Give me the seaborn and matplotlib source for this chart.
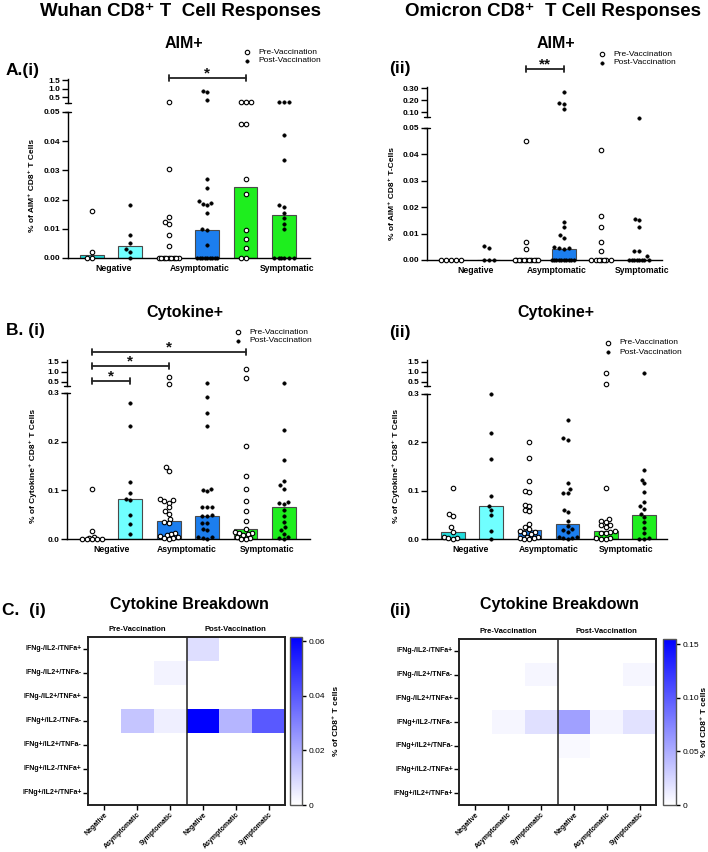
import numpy as np
import pandas as pd
import matplotlib
matplotlib.use("Agg")
import matplotlib.pyplot as plt
import seaborn as sns
from matplotlib.colors import LinearSegmentedColormap
from matplotlib.lines import Line2D
import matplotlib.transforms as mtransforms

sns.set_theme(style="ticks")
plt.rcParams['font.family'] = ['Liberation Sans', 'DejaVu Sans']
plt.rcParams['axes.linewidth'] = 1.0
plt.rcParams['xtick.major.width'] = 1.0
plt.rcParams['ytick.major.width'] = 1.0
for key in ('text.color', 'axes.labelcolor', 'xtick.color', 'ytick.color',
            'axes.edgecolor'):
    plt.rcParams[key] = 'black'

# ---------------- data ----------------
groups = ["Negative", "Asymptomatic", "Symptomatic"]
bar_names = ["Neg Pre", "Neg Post", "Asym Pre", "Asym Post", "Symp Pre", "Symp Post"]
bar_colors = ["#22DCDC", "#70FFFF", "#1C7EEE", "#1C7EEE", "#1EEE1E", "#1EEE1E"]
legend_labels = ["Pre-Vaccination", "Post-Vaccination"]

# A(i) Wuhan AIM+
wuhan_aim_bars = [0.001, 0.004, 0.0, 0.0095, 0.0243, 0.0147]
wuhan_aim_neg_pre = [0.016, 0.002, 0.0, 0.0]
wuhan_aim_neg_post = [0.018, 0.0078, 0.005, 0.003, 0.002, 0.0]
wuhan_aim_asym_pre = [0.2, 0.0305, 0.014, 0.0125, 0.0115, 0.008, 0.004,
                      0.0, 0.0, 0.0, 0.0, 0.0, 0.0, 0.0, 0.0, 0.0]
wuhan_aim_asym_post = [0.85, 0.78, 0.3, 0.027, 0.024, 0.0195, 0.019, 0.0185, 0.018,
                       0.0155, 0.0098, 0.0095, 0.0045,
                       0.0, 0.0, 0.0, 0.0, 0.0, 0.0, 0.0, 0.0, 0.0]
wuhan_aim_symp_pre = [0.2, 0.2, 0.2, 0.046, 0.046, 0.027, 0.022, 0.0097, 0.0065,
                      0.0035, 0.0, 0.0]
wuhan_aim_symp_post = [0.2, 0.2, 0.2, 0.042, 0.0335, 0.018, 0.0175, 0.0155, 0.0138,
                       0.0115, 0.0098, 0.0, 0.0, 0.0, 0.0, 0.0, 0.0]

# A(ii) Omicron AIM+
omicron_aim_bars = [0.0, 0.0, 0.0, 0.0043, 0.0, 0.0]
omicron_aim_neg_pre = [0.0, 0.0, 0.0, 0.0, 0.0]
omicron_aim_neg_post = [0.0053, 0.0045, 0.0, 0.0, 0.0]
omicron_aim_asym_pre = [0.045, 0.0067, 0.004, 0.0, 0.0, 0.0, 0.0, 0.0, 0.0, 0.0,
                        0.0, 0.0, 0.0, 0.0]
omicron_aim_asym_post = [0.27, 0.18, 0.17, 0.13, 0.0145, 0.0125, 0.0095, 0.0085,
                         0.0048, 0.0046, 0.0045, 0.0043,
                         0.0, 0.0, 0.0, 0.0, 0.0, 0.0, 0.0, 0.0, 0.0, 0.0]
omicron_aim_symp_pre = [0.0415, 0.0165, 0.0125, 0.007, 0.0033,
                        0.0, 0.0, 0.0, 0.0, 0.0, 0.0, 0.0]
omicron_aim_symp_post = [0.053, 0.0155, 0.015, 0.0125, 0.0033, 0.0033, 0.0015,
                         0.0, 0.0, 0.0, 0.0, 0.0, 0.0, 0.0, 0.0]

# B(i) Wuhan Cytokine+
wuhan_cyt_bars = [0.002, 0.082, 0.038, 0.048, 0.02, 0.065]
wuhan_cyt_neg_pre = [0.103, 0.016, 0.005, 0.003, 0.0, 0.0, 0.0, 0.0, 0.0]
wuhan_cyt_neg_post = [0.28, 0.232, 0.118, 0.094, 0.083, 0.08, 0.05, 0.03, 0.01]
wuhan_cyt_asym_pre = [0.75, 0.4, 0.148, 0.14, 0.083, 0.08, 0.078, 0.075, 0.065, 0.057,
                      0.052, 0.042, 0.035, 0.033, 0.012, 0.01, 0.008, 0.007, 0.005,
                      0.003, 0.002, 0.001]
wuhan_cyt_asym_post = [0.45, 0.292, 0.258, 0.233, 0.103, 0.1, 0.098, 0.066, 0.066,
                       0.065, 0.05, 0.048, 0.047, 0.033, 0.032, 0.02, 0.018, 0.005,
                       0.004, 0.002, 0.0]
wuhan_cyt_symp_pre = [1.15, 0.7, 0.192, 0.13, 0.103, 0.079, 0.057, 0.038, 0.02, 0.015,
                      0.013, 0.012, 0.01, 0.008, 0.005, 0.002, 0.0, 0.0]
wuhan_cyt_symp_post = [0.45, 0.223, 0.162, 0.12, 0.11, 0.103, 0.077, 0.075, 0.072,
                       0.06, 0.048, 0.035, 0.025, 0.018, 0.01, 0.005, 0.002, 0.0]

# B(ii) Omicron Cytokine+
omicron_cyt_bars = [0.014, 0.068, 0.018, 0.032, 0.016, 0.05]
omicron_cyt_neg_pre = [0.106, 0.052, 0.047, 0.024, 0.015, 0.005, 0.003, 0.002, 0.0]
omicron_cyt_neg_post = [0.3, 0.22, 0.166, 0.09, 0.068, 0.06, 0.05, 0.016, 0.0]
omicron_cyt_asym_pre = [0.2, 0.167, 0.12, 0.1, 0.098, 0.07, 0.068, 0.06, 0.058, 0.032,
                        0.025, 0.02, 0.016, 0.015, 0.013, 0.01, 0.005, 0.004, 0.003,
                        0.002, 0.001, 0.0]
omicron_cyt_asym_post = [0.247, 0.208, 0.205, 0.115, 0.103, 0.096, 0.095, 0.06, 0.055,
                         0.038, 0.027, 0.02, 0.018, 0.015, 0.005, 0.004, 0.003, 0.002,
                         0.0]
omicron_cyt_symp_pre = [0.95, 0.38, 0.105, 0.042, 0.038, 0.035, 0.03, 0.028, 0.025,
                        0.017, 0.015, 0.013, 0.012, 0.003, 0.002, 0.0, 0.0]
omicron_cyt_symp_post = [0.95, 0.142, 0.123, 0.115, 0.098, 0.077, 0.068, 0.063, 0.052,
                         0.045, 0.035, 0.023, 0.013, 0.002, 0.0, 0.0]

# C heatmaps
cytokine_rows = ["IFNg-/IL2-/TNFa+", "IFNg-/IL2+/TNFa-", "IFNg-/IL2+/TNFa+",
                 "IFNg+/IL2-/TNFa-", "IFNg+/IL2+/TNFa-", "IFNg+/IL2-/TNFa+",
                 "IFNg+/IL2+/TNFa+"]
heat_cols = ["Negative", "Asymptomatic", "Symptomatic",
             "Negative", "Asymptomatic", "Symptomatic"]
wuhan_breakdown = [
    [0.0, 0.0, 0.0, 0.008, 0.0, 0.0],
    [0.0, 0.0, 0.003, 0.0, 0.0, 0.0],
    [0.0, 0.0, 0.0, 0.0, 0.0, 0.0],
    [0.0, 0.014, 0.004, 0.062, 0.018, 0.04],
    [0.0, 0.0, 0.0, 0.0, 0.0, 0.0],
    [0.0, 0.0, 0.0, 0.0, 0.0, 0.0],
    [0.0, 0.0, 0.0, 0.0, 0.0, 0.0],
]
omicron_breakdown = [
    [0.0, 0.0, 0.0, 0.0, 0.0, 0.0],
    [0.0, 0.0, 0.006, 0.0, 0.0, 0.006],
    [0.0, 0.0, 0.0, 0.0, 0.0, 0.0],
    [0.0, 0.006, 0.019, 0.058, 0.007, 0.018],
    [0.0, 0.0, 0.0, 0.004, 0.0, 0.0],
    [0.0, 0.0, 0.0, 0.0, 0.0, 0.0],
    [0.0, 0.0, 0.0, 0.0, 0.0, 0.0],
]

# ---------------- layout helpers ----------------
W, H = 708, 852
fig = plt.figure(figsize=(W / 100, H / 100), dpi=100)


def fx(x):
    return x / W


def fy(y):
    return 1 - y / H


def add_ax(x0, y0, x1, y1):
    return fig.add_axes([x0 / W, 1 - y1 / H, (x1 - x0) / W, (y1 - y0) / H])


def ftext(x, y, s, **kw):
    fig.text(fx(x), fy(y), s, **kw)


def swarm_x(axL, axT, center, vals, split, half_w_px=11.5, diam=4.6, step=0.5):
    vals = np.asarray(vals, float)
    order = np.argsort(vals, kind='stable')
    x0px = axL.transData.transform((center, 0))[0]
    ppu = axL.transData.transform((center + 1, 0))[0] - x0px
    cands = np.arange(-half_w_px, half_w_px + 1e-9, step)
    cands = cands[np.argsort(np.abs(cands), kind='stable')]
    placed = []
    xs = np.zeros(len(vals))
    for i in order:
        v = vals[i]
        a = axL if v <= split else axT
        ypx = a.transData.transform((center, v))[1]
        best, bestd = 0.0, -1.0
        for c in cands:
            d = min((np.hypot(c - px, ypx - py) for px, py in placed), default=np.inf)
            if d >= diam:
                best = c
                break
            if d > bestd:
                bestd, best = d, c
        placed.append((best, ypx))
        xs[i] = center + best / ppu
    return xs


def spine_cap(ax, where, half_px=3.0):
    bb = ax.get_position()
    d = half_px / (bb.width * W)
    ax.plot([-d, d], [where, where], color='black', lw=1.0,
            transform=ax.transAxes, clip_on=False)


def bar_panel(lower_box, top_box, lower_ylim, top_ylim, lower_ticks, lower_fmt,
              top_ticks, top_fmt, xlim, bars, point_sets, label_pos):
    axL = add_ax(*lower_box)
    axT = add_ax(*top_box)
    df = pd.DataFrame({"group": bar_names, "value": bars})
    sns.barplot(data=df, x="group", y="value", hue="group", order=bar_names,
                hue_order=bar_names, palette=bar_colors, legend=False, ax=axL,
                width=0.62, saturation=1, edgecolor="#4a4a4a", linewidth=0.8,
                errorbar=None)
    for a, yl in ((axL, lower_ylim), (axT, top_ylim)):
        a.set_xlim(xlim)
        a.set_ylim(yl)
        a.set_xlabel("")
        a.set_ylabel("")
    split = lower_ylim[1]
    for i, vals in enumerate(point_sets):
        xs = swarm_x(axL, axT, i, vals, split)
        vals = np.asarray(vals, float)
        low = vals <= split
        pre = (i % 2 == 0)
        for a, m in ((axL, low), (axT, ~low)):
            if m.sum() == 0:
                continue
            if pre:
                a.scatter(xs[m], vals[m], s=10.5, facecolor='white', edgecolor='black',
                          linewidth=0.8, zorder=4, clip_on=False)
            else:
                a.scatter(xs[m], vals[m], s=6.5, facecolor='black', edgecolor='black',
                          linewidth=0.3, zorder=4, clip_on=False)
    for a, yl in ((axL, lower_ylim), (axT, top_ylim)):
        a.set_xlim(xlim)
        a.set_ylim(yl)
    # lower axis styling
    axL.spines['top'].set_visible(False)
    axL.spines['right'].set_visible(False)
    axL.set_yticks(lower_ticks, [lower_fmt % t for t in lower_ticks],
                   fontsize=6, fontweight='bold')
    axL.set_xticks(label_pos, groups, fontsize=6.2, fontweight='bold')
    axL.tick_params(axis='x', length=0, pad=4)
    axL.tick_params(axis='y', length=4, width=1, pad=1.5, direction='out')
    # top axis styling
    for s in ('top', 'right', 'bottom'):
        axT.spines[s].set_visible(False)
    axT.set_xticks([])
    axT.set_yticks(top_ticks, [top_fmt % t for t in top_ticks],
                   fontsize=6, fontweight='bold')
    axT.tick_params(axis='y', length=4, width=1, pad=1.5, direction='out')
    spine_cap(axT, 0.0)
    spine_cap(axL, 1.0)
    axL.set_facecolor('none')
    axT.set_facecolor('none')
    return axL, axT


def sig_bracket(ax, x0, x1, y_px, text, fs=11):
    tr = mtransforms.blended_transform_factory(ax.transData, fig.transFigure)
    y = fy(y_px)
    cap = 3.0 / H
    kw = dict(color='#222222', lw=1.3, transform=tr, clip_on=False)
    ax.plot([x0, x1], [y, y], **kw)
    ax.plot([x0, x0], [y - cap, y + cap], **kw)
    ax.plot([x1, x1], [y - cap, y + cap], **kw)
    ax.text((x0 + x1) / 2, y + 1.0 / H, text, transform=tr, ha='center',
            va='baseline', fontsize=fs, fontweight='bold', color='#111111')


def legend_at(x, y):
    fig.add_artist(Line2D([fx(x)], [fy(y)], marker='o', markersize=3.2,
                          mfc='white', mec='black', mew=0.8, linestyle='none',
                          transform=fig.transFigure))
    fig.add_artist(Line2D([fx(x)], [fy(y + 9)], marker='o', markersize=2.5,
                          mfc='black', mec='black', mew=0.3, linestyle='none',
                          transform=fig.transFigure))
    ftext(x + 11, y, legend_labels[0], fontsize=6, va='center', ha='left')
    ftext(x + 11, y + 9, legend_labels[1], fontsize=6, va='center', ha='left')


# ---------------- titles ----------------
ftext(181, 12, "Wuhan CD8⁺ T  Cell Responses", fontsize=13.5, fontweight='bold',
      ha='center', va='center')
ftext(553, 11, "Omicron CD8⁺  T Cell Responses", fontsize=13.5, fontweight='bold',
      ha='center', va='center')

# ---------------- A(i) ----------------
axL, axT = bar_panel((68, 112, 310, 258), (68, 79, 310, 103), (0, 0.05), (0.147, 1.56),
                     [0, 0.01, 0.02, 0.03, 0.04, 0.05], "%.2f", [0.5, 1.0, 1.5], "%.1f",
                     (-0.625, 5.68), wuhan_aim_bars,
                     [wuhan_aim_neg_pre, wuhan_aim_neg_post, wuhan_aim_asym_pre,
                      wuhan_aim_asym_post, wuhan_aim_symp_pre, wuhan_aim_symp_post],
                     [0.55, 2.81, 5.08])
sig_bracket(axT, 2, 4, 78, "*")
ftext(184, 44, "AIM+", fontsize=11.5, fontweight='bold', ha='center', va='center')
ftext(6, 71, "A.(i)", fontsize=12.5, fontweight='bold', ha='left', va='center')
ftext(33, 185, "% of AIM⁺ CD8⁺ T Cells", fontsize=6, fontweight='bold', rotation=90,
      ha='center', va='center')
legend_at(247, 52)

# ---------------- A(ii) ----------------
axL, axT = bar_panel((427, 128, 662, 260), (427, 87, 662, 117), (0, 0.05), (0.061, 0.311),
                     [0, 0.01, 0.02, 0.03, 0.04, 0.05], "%.2f", [0.1, 0.2, 0.3], "%.2f",
                     (-0.64, 5.61), omicron_aim_bars,
                     [omicron_aim_neg_pre, omicron_aim_neg_post, omicron_aim_asym_pre,
                      omicron_aim_asym_post, omicron_aim_symp_pre, omicron_aim_symp_post],
                     [0.64, 2.82, 5.08])
sig_bracket(axT, 2, 3, 69, "**")
ftext(556, 43, "AIM+", fontsize=11.5, fontweight='bold', ha='center', va='center')
ftext(389, 68, "(ii)", fontsize=12.5, fontweight='bold', ha='left', va='center')
ftext(392, 194, "% of AIM⁺ CD8⁺ T-Cells", fontsize=6, fontweight='bold', rotation=90,
      ha='center', va='center')
legend_at(602, 54)

# ---------------- B(i) ----------------
axL, axT = bar_panel((67, 393, 310, 539), (67, 360, 310, 386), (0, 0.3), (0.3, 1.6),
                     [0, 0.1, 0.2, 0.3], "%.1f", [0.5, 1.0, 1.5], "%.1f",
                     (-0.65, 5.68), wuhan_cyt_bars,
                     [wuhan_cyt_neg_pre, wuhan_cyt_neg_post, wuhan_cyt_asym_pre,
                      wuhan_cyt_asym_post, wuhan_cyt_symp_pre, wuhan_cyt_symp_post],
                     [0.52, 2.47, 4.56])
sig_bracket(axT, 0, 1, 381, "*")
sig_bracket(axT, 0, 2, 366, "*")
sig_bracket(axT, 0, 4, 352, "*")
ftext(185, 313, "Cytokine+", fontsize=11.5, fontweight='bold', ha='center', va='center')
ftext(6, 331, "B. (i)", fontsize=12.5, fontweight='bold', ha='left', va='center')
ftext(33, 466, "% of Cytokine⁺ CD8⁺ T Cells", fontsize=6, fontweight='bold',
      rotation=90, ha='center', va='center')
legend_at(238, 332)

# ---------------- B(ii) ----------------
axL, axT = bar_panel((427, 394, 667, 539), (427, 360, 667, 386), (0, 0.3), (0.3, 1.6),
                     [0, 0.1, 0.2, 0.3], "%.1f", [0.5, 1.0, 1.5], "%.1f",
                     (-0.68, 5.6), omicron_cyt_bars,
                     [omicron_cyt_neg_pre, omicron_cyt_neg_post, omicron_cyt_asym_pre,
                      omicron_cyt_asym_post, omicron_cyt_symp_pre, omicron_cyt_symp_post],
                     [0.47, 2.51, 4.53])
ftext(556, 313, "Cytokine+", fontsize=11.5, fontweight='bold', ha='center', va='center')
ftext(389, 332, "(ii)", fontsize=12.5, fontweight='bold', ha='left', va='center')
ftext(396, 466, "% of Cytokine⁺ CD8⁺ T Cells", fontsize=6, fontweight='bold',
      rotation=90, ha='center', va='center')
legend_at(608, 343)

# ---------------- C heatmaps ----------------
cmap = LinearSegmentedColormap.from_list("white_blue", ["#FFFFFF", "#0000FF"])


def heat_panel(box, cbox, data, vmax, cticks, clabels, cb_label_x):
    ax = add_ax(*box)
    cax = add_ax(*cbox)
    df = pd.DataFrame(data, index=cytokine_rows,
                      columns=[f"c{i}" for i in range(len(heat_cols))])
    sns.heatmap(df, ax=ax, cbar_ax=cax, cmap=cmap, vmin=0, vmax=vmax,
                xticklabels=heat_cols, yticklabels=cytokine_rows)
    for s in ax.spines.values():
        s.set_visible(True)
        s.set_linewidth(1.4)
        s.set_color('#222222')
    ax.axvline(3, color='#222222', lw=1.1)
    ax.tick_params(axis='both', length=3.5, width=1, direction='out',
                   left=True, bottom=True, pad=1)
    ax.set_yticks(np.arange(len(cytokine_rows)) + 0.5, cytokine_rows, rotation=0,
                  fontsize=5, fontweight='bold')
    ax.set_xticks(np.arange(len(heat_cols)) + 0.5, heat_cols, rotation=45, ha='right',
                  rotation_mode='anchor', fontsize=5, fontweight='bold')
    ax.set_xlabel("")
    ax.set_ylabel("")
    ax.text(0.25, 1.025, "Pre-Vaccination", transform=ax.transAxes, ha='center',
            va='bottom', fontsize=5.5, fontweight='bold')
    ax.text(0.75, 1.025, "Post-Vaccination", transform=ax.transAxes, ha='center',
            va='bottom', fontsize=5.5, fontweight='bold')
    cbar = ax.collections[0].colorbar
    cbar.set_ticks(cticks, labels=clabels)
    cax.tick_params(labelsize=6, length=3, width=1, pad=2)
    cbar.outline.set_edgecolor('#555555')
    cbar.outline.set_linewidth(1.0)
    ftext(cb_label_x, (box[1] + box[3]) / 2, "% of CD8⁺ T cells", fontsize=6,
          fontweight='bold', rotation=90, ha='center', va='center')
    return ax


heat_panel((88, 637, 285, 805), (290, 637, 302, 805), wuhan_breakdown, 0.0615,
           [0, 0.02, 0.04, 0.06], ["0", "0.02", "0.04", "0.06"], 337)
ftext(189, 604, "Cytokine Breakdown", fontsize=11.5, fontweight='bold', ha='center',
      va='center')
ftext(2, 611, "C.  (i)", fontsize=12.5, fontweight='bold', ha='left', va='center')

heat_panel((459, 639, 656, 805), (663, 639, 676, 805), omicron_breakdown, 0.155,
           [0, 0.05, 0.10, 0.15], ["0", "0.05", "0.10", "0.15"], 704)
ftext(559, 604, "Cytokine Breakdown", fontsize=11.5, fontweight='bold', ha='center',
      va='center')
ftext(389, 611, "(ii)", fontsize=12.5, fontweight='bold', ha='left', va='center')

fig.savefig("out.png", dpi=100, facecolor='white')
